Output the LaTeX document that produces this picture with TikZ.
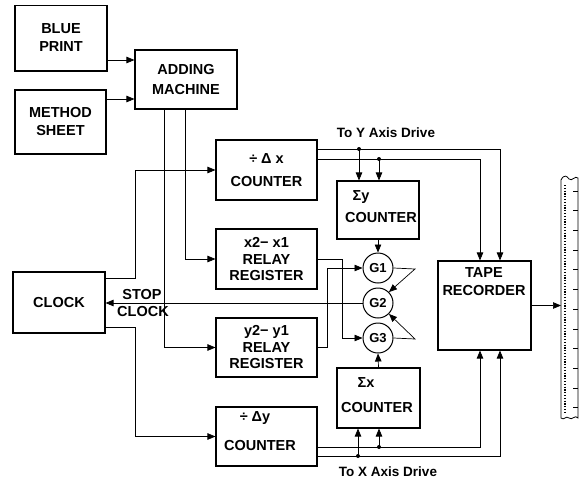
\documentclass[tikz,border=0pt]{standalone}
\usepackage{fontspec}
\setmainfont{Liberation Sans}
\usetikzlibrary{arrows.meta}

\begin{document}
\begin{tikzpicture}[x=1pt, y=-1pt,
    box/.style={draw, line width=1.1pt, align=center, inner sep=0pt,
      font=\bfseries\fontsize{14.5}{18}\selectfont},
    gate/.style={draw, circle, line width=1pt, minimum size=30pt, inner sep=0pt,
      font=\bfseries\fontsize{13}{15}\selectfont},
    txt/.style={inner sep=0pt, font=\bfseries\fontsize{14.5}{18}\selectfont},
    drive/.style={inner sep=0pt, font=\bfseries\fontsize{13.5}{15}\selectfont},
    wire/.style={line width=0.7pt},
    feed/.style={wire, -{Triangle[length=8pt, width=6.5pt]}},
  ]
  \useasboundingbox (0,0) rectangle (579,480);

  % blocks
  \node[box, minimum width=92pt, minimum height=65pt] (bp) at ( 61, 38) {BLUE\\PRINT};
  \node[box, minimum width=91pt, minimum height=64pt] (ms) at ( 60.5,122) {METHOD\\SHEET};
  \node[box, minimum width=102pt, minimum height=59pt] (am) at (186, 79.5) {ADDING\\[2pt]MACHINE};
  \node[box, minimum width=92pt, minimum height=61pt] (ck) at ( 59,302.5) {CLOCK};
  \node[box, minimum width=101pt, minimum height=60pt] (dx) at (266.5,170) {÷ Δ x\\[5pt]COUNTER};
  \node[box, minimum width=101pt, minimum height=60pt] (rx) at (266.5,259) {x2− x1\\[-1pt]RELAY\\[-2pt]REGISTER};
  \node[box, minimum width=101pt, minimum height=59pt] (ry) at (266.5,347.5) {y2− y1\\[-1pt]RELAY\\[-2pt]REGISTER};
  \node[box, minimum width=101pt, minimum height=59pt] (dy) at (266.5,436.5) {};
  \node[box, minimum width=82pt, minimum height=58pt] (sy) at (378,210) {};
  \node[box, minimum width=83pt, minimum height=60pt] (sx) at (378.5,398) {};
  \node[box, minimum width=93pt, minimum height=89pt] (tr) at (484.5,305.5) {};
  \foreach \n in {bp,ms,am,ck,dx,rx,ry,dy,sy,sx,tr}
    \draw[line width=1.8pt] (\n.south west) -- (\n.south east) -- (\n.north east);

  \node[txt] (dyt) at (255,418) {÷ Δy};
  \node[txt] (dyc) at (260,446) {COUNTER};
  \node[txt] (syt) at (361,197) {Σy};
  \node[txt] (syc) at (381,218) {COUNTER};
  \node[txt] (sxt) at (366,383) {Σx};
  \node[txt] (sxc) at (377,408) {COUNTER};
  \node[txt] (trt) at (484,273) {TAPE};
  \node[txt] (trc) at (484,291) {RECORDER};

  % gates
  \node[gate] (g1) at (378,268) {G1};
  \node[gate] (g2) at (378,303) {G2};
  \node[gate] (g3) at (378,338) {G3};

  % junction points
  \coordinate (am1) at (164,0);
  \coordinate (am2) at (185,0);
  \coordinate (cka) at (135,278);
  \coordinate (ckb) at (135,327);
  \coordinate (rxj) at (342,0);
  \coordinate (ryj) at (327,0);
  \coordinate (gj1) at (415,269);
  \coordinate (gj3) at (415,339);
  \coordinate (ya) at (359,149);
  \coordinate (yb) at (379,159);
  \coordinate (ta) at (500,149);
  \coordinate (tb) at (480,159);
  \coordinate (xa) at (379,447);
  \coordinate (xb) at (358,456);
  \coordinate (tc) at (480,447);
  \coordinate (td) at (500,456);
  \coordinate (tp) at (561,305.5);

  % inputs
  \draw[feed] (bp.east |- 0,60) -- (am.west |- 0,60);
  \draw[feed] (ms.east |- 0,99) -- (am.west |- 0,99);
  \draw[feed] (am.south -| am1) |- (ry.west);
  \draw[feed] (am.south -| am2) |- (rx.west);
  \draw[feed] (ck.east |- cka) -- (cka) |- (dx.west);
  \draw[feed] (ck.east |- ckb) -- (ckb) |- (dy.west);

  % registers to gates
  \draw[feed] (rx.east) -- (rx.east -| rxj) |- (g3.west);
  \draw[feed] (ry.east) -- (ry.east -| ryj) |- (g1.west);
  \draw[feed] (sy.south) -- (g1.north);
  \draw[feed] (sx.north) -- (g3.south);
  \draw[feed] (g1.east) -- (gj1) -- (g2.45);
  \draw[feed] (g3.east) -- (gj3) -- (g2.-45);
  \draw[feed] (g2.west) -- (g2.west -| ck.east);
  \node[txt] (stop) at (142,295) {STOP};
  \node[txt] (stpc) at (143,312) {CLOCK};

  % drive lines
  \draw[feed] (dx.east |- ta) -- (ta) -- (tr.north -| ta);
  \draw[feed] (dx.east |- tb) -- (tb) -- (tr.north -| tb);
  \draw[feed] (ya) -- (sy.north -| ya);
  \draw[feed] (yb) -- (sy.north -| yb);
  \fill (ya) circle (2pt);
  \fill (yb) circle (2pt);
  \draw[feed] (dy.east |- tc) -- (tc) -- (tr.south -| tc);
  \draw[feed] (dy.east |- td) -- (td) -- (tr.south -| td);
  \draw[feed] (xa) -- (sx.south -| xa);
  \draw[feed] (xb) -- (sx.south -| xb);
  \fill (xa) circle (2pt);
  \fill (xb) circle (2pt);
  \node[drive] (ydr) at (386,133) {To Y Axis Drive};
  \node[drive] (xdr) at (388,472) {To X Axis Drive};

  % tape
  \draw[feed] (tr.east) -- (tp);
  \draw[line width=0.8pt] (561,180) .. controls (564,174) and (567,176) .. (569,179)
    .. controls (572,182) and (575,175) .. (578,178) -- (578,418)
    .. controls (575,414) and (572,421) .. (569,418)
    .. controls (566,415) and (564,421) .. (561,418) -- cycle;
  \draw[line width=1.4pt, dash pattern=on 1.2pt off 1.6pt] (565,185) -- (565,414);
  \foreach \i in {0,...,11}
    \draw[wire] (573,191+19.7*\i) -- ++(5,0);
\end{tikzpicture}
\end{document}
